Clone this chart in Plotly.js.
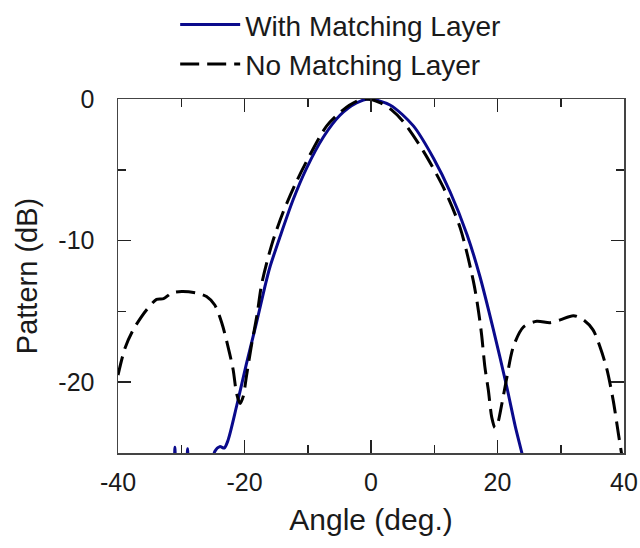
<!DOCTYPE html>
<html>
<head>
<meta charset="utf-8">
<script src="https://cdn.plot.ly/plotly-3.0.1.min.js"></script>
<style>html,body{margin:0;padding:0;background:#fff;}#chart{width:640px;height:548px;}</style>
</head>
<body>
<div id="chart"></div>
<script>
// With Matching Layer (blue, solid)
const withAngle = [-34, -31.3, -31.0, -30.7, -29.3, -29.0, -28.7, -26, -25.2, -24.7, -23.9, -23.2, -22.6, -21.25, -19.7, -18.1, -16.75, -16.0, -14.4, -12.3, -10.2, -7.55, -4.9, -2.3, -0.3, 3.0, 6.7, 9.9, 12.5, 15.2, 17.2, 19.3, 21.4, 22.8, 23.8, 24.5];
const withDb    = [-27, -26, -24.6, -26, -26, -24.7, -26, -27, -26, -24.9, -24.55, -24.65, -24.1, -21.7, -18.7, -15.8, -13.2, -11.9, -9.75, -7.1, -4.9, -2.7, -1.15, -0.28, 0, -0.42, -1.9, -4.2, -6.55, -9.6, -12.5, -16.2, -20.2, -23.1, -24.9, -26.2];

// No Matching Layer (black, dashed)
const noAngle = [-40, -38.9, -37.6, -35.5, -33.9, -32.8, -31.5, -29.9, -27.6, -26, -24.7, -23.6, -22.6, -21.8, -21.25, -20.7, -20.2, -19.7, -18.9, -18.0, -17.3, -15.7, -13.9, -11.75, -9.6, -7.0, -4.5, -2.2, -0.8, 1.4, 3.2, 5.1, 8.3, 11.5, 14.1, 16.2, 17.0, 17.5, 18.0, 18.55, 19.1, 19.6, 20.1, 20.4, 21.4, 22.5, 24.1, 26.2, 28.3, 29.9, 32.0, 33.6, 35.1, 36.2, 37.3, 38.3, 39.1, 39.6, 40];
const noDb    = [-19.5, -17.6, -16.3, -14.9, -14.15, -14.1, -13.7, -13.6, -13.7, -13.95, -14.55, -15.8, -17.5, -19.1, -20.8, -21.5, -21.0, -19.6, -17.4, -15.2, -13.1, -10.3, -8.0, -5.8, -3.9, -1.9, -0.8, -0.15, 0, -0.25, -0.75, -1.6, -3.7, -6.3, -9.1, -12.9, -15.0, -16.7, -18.9, -20.55, -22.5, -23.2, -22.8, -22.2, -19.85, -17.5, -16.1, -15.7, -15.8, -15.6, -15.3, -15.6, -16.3, -17.5, -19.1, -21.3, -23.6, -25.0, -26];

const seriesNames = ['With Matching Layer', 'No Matching Layer'];
const xTicks = [-40, -20, 0, 20, 40];
const yTicks = [0, -10, -20];

const traces = [
  {x: withAngle, y: withDb, name: seriesNames[0], type: 'scatter', mode: 'lines',
   line: {color: '#0a0a8c', width: 3, shape: 'spline', smoothing: 0.8}},
  {x: noAngle, y: noDb, name: seriesNames[1], type: 'scatter', mode: 'lines',
   line: {color: '#000000', width: 3, dash: '19px,8px', shape: 'spline', smoothing: 0.8}}
];

const fam = 'Liberation Sans, Arial, sans-serif';
const txt = '#1a1a1a';
const layout = {
  width: 640, height: 548,
  margin: {l: 118, r: 16, t: 99, b: 95, autoexpand: false},
  paper_bgcolor: '#fff', plot_bgcolor: '#fff',
  font: {family: fam, color: txt},
  showlegend: true,
  legend: {x: 0.113, xanchor: 'left', y: 1.28, yanchor: 'top', font: {size: 28, family: fam, color: txt},
           itemwidth: 60, bgcolor: 'rgba(0,0,0,0)'},
  xaxis: {range: [-40, 40], tickvals: xTicks, ticktext: xTicks.map(String),
          ticks: 'inside', ticklen: 13, tickwidth: 1.5, tickcolor: '#222', ticklabelstandoff: 6,
          minor: {dtick: 10, tick0: 0, ticks: 'inside', ticklen: 8, tickwidth: 1.5, tickcolor: '#222'},
          showline: true, linecolor: '#444', linewidth: 1.5, mirror: 'ticks',
          showgrid: false, zeroline: false,
          tickfont: {size: 25, family: fam, color: txt},
          title: {text: 'Angle (deg.)', font: {size: 30, family: fam, color: txt}, standoff: 14}},
  yaxis: {range: [-25, 0], tickvals: yTicks, ticktext: yTicks.map(String),
          ticks: 'inside', ticklen: 13, tickwidth: 1.5, tickcolor: '#222', ticklabelstandoff: 17,
          minor: {dtick: 5, tick0: 0, ticks: 'inside', ticklen: 8, tickwidth: 1.5, tickcolor: '#222'},
          showline: true, linecolor: '#444', linewidth: 1.5, mirror: 'ticks',
          showgrid: false, zeroline: false,
          tickfont: {size: 25, family: fam, color: txt},
          title: {text: 'Pattern (dB)', font: {size: 29, family: fam, color: txt}, standoff: 12}}
};

Plotly.newPlot('chart', traces, layout, {staticPlot: true, displayModeBar: false});
</script>
</body>
</html>
